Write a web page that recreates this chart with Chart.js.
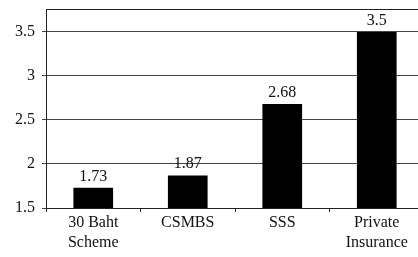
<!DOCTYPE html>
<html>
<head>
<meta charset="utf-8">
<script src="https://cdn.jsdelivr.net/npm/chart.js@4/dist/chart.umd.min.js"></script>
<style>
html,body{margin:0;padding:0;background:#fff;overflow:hidden;width:418px;height:257px;}
#wrap{width:424px;height:257px;position:relative;}
</style>
</head>
<body>
<div id="wrap"><canvas id="c" width="424" height="257"></canvas></div>
<script>
const categories = [["30 Baht","Scheme"],["CSMBS"],["SSS"],["Private","Insurance"]];
const values = [1.73, 1.87, 2.68, 3.5];
const valueLabels = ["1.73", "1.87", "2.68", "3.5"];
const yTicks = [1.5, 2, 2.5, 3, 3.5];

const FONT = "'Liberation Serif', 'Times New Roman', serif";

const labelPlugin = {
  id: 'valueLabels',
  afterDatasetsDraw(chart) {
    const ctx = chart.ctx;
    const meta = chart.getDatasetMeta(0);
    ctx.save();
    ctx.font = "16px " + FONT;
    ctx.fillStyle = "#111";
    ctx.textAlign = "center";
    ctx.textBaseline = "alphabetic";
    meta.data.forEach((bar, i) => {
      ctx.fillText(valueLabels[i], bar.x, bar.y - 7);
    });
    ctx.restore();
  }
};

const topBorder = {
  id: 'topBorder',
  afterDraw(chart) {
    const a = chart.chartArea;
    const ctx = chart.ctx;
    ctx.save();
    ctx.strokeStyle = "#222";
    ctx.lineWidth = 1;
    ctx.beginPath();
    ctx.moveTo(a.left, Math.round(a.top) + 0.5);
    ctx.lineTo(a.right, Math.round(a.top) + 0.5);
    ctx.stroke();
    ctx.restore();
  }
};

new Chart(document.getElementById('c'), {
  type: 'bar',
  data: {
    labels: categories,
    datasets: [{
      data: values,
      backgroundColor: '#000',
      borderWidth: 0,
      barPercentage: 0.42,
      categoryPercentage: 1.0
    }]
  },
  options: {
    responsive: false,
    animation: false,
    devicePixelRatio: 1,
    layout: { padding: { top: 9, left: 0, right: 0, bottom: 0 } },
    plugins: { legend: { display: false }, tooltip: { enabled: false } },
    scales: {
      x: {
        offset: true,
        grid: { drawOnChartArea: false, drawTicks: true, tickLength: 4, color: '#222', offset: true },
        border: { color: '#222', width: 1 },
        ticks: { color: '#111', font: { family: FONT, size: 16, lineHeight: 1.3 }, padding: 0, maxRotation: 0, autoSkip: false },
        afterFit(s) { s.height = 49; s.paddingLeft = 0; s.paddingRight = 0; }
      },
      y: {
        min: 1.5,
        max: 3.76,
        afterBuildTicks(s) { s.ticks = yTicks.map(v => ({ value: v })); },
        grid: { color: '#444', tickLength: 4, drawTicks: true },
        border: { color: '#222', width: 1 },
        ticks: { color: '#111', font: { family: FONT, size: 16 }, padding: 7, callback: v => String(v) },
        afterFit(s) { s.width = 46; s.paddingTop = 0; s.paddingBottom = 0; }
      }
    }
  },
  plugins: [labelPlugin, topBorder]
});
</script>
</body>
</html>
